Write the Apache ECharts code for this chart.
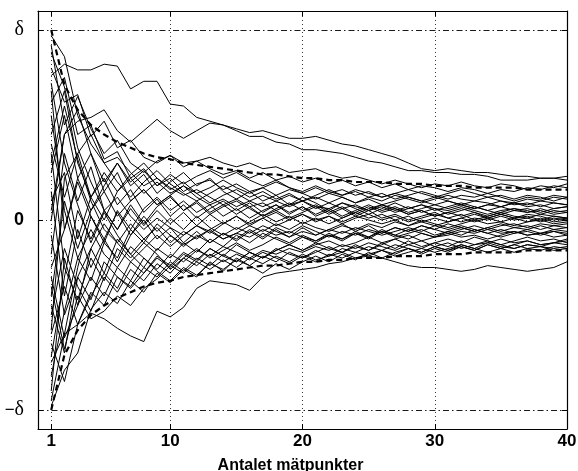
<!DOCTYPE html>
<html>
<head>
<meta charset="utf-8">
<script src="https://cdn.jsdelivr.net/npm/echarts@6/dist/echarts.min.js"></script>
<style>html,body{margin:0;padding:0;background:#fff;}#c{width:578px;height:471px;}</style>
</head>
<body>
<div id="c"></div>
<script>
// Number of measurement points (x values)
const points = [1,2,3,4,5,6,7,8,9,10,11,12,13,14,15,16,17,18,19,20,21,22,23,24,25,26,27,28,29,30,31,32,33,34,35,36,37,38,39,40];
// x tick labels and y tick positions (in units of delta)
const xTicks = [1,10,20,30,40];
const yTicks = [-1,0,1];
// Dashed envelope
const envUpper = [1.00,0.71,0.58,0.50,0.45,0.41,0.38,0.35,0.33,0.32,0.30,0.29,0.28,0.27,0.26,0.25,0.24,0.24,0.23,0.22,0.22,0.21,0.21,0.20,0.20,0.20,0.19,0.19,0.19,0.18,0.18,0.18,0.17,0.17,0.17,0.17,0.16,0.16,0.16,0.16];
const envLower = [-1.00,-0.71,-0.58,-0.50,-0.45,-0.41,-0.38,-0.35,-0.33,-0.32,-0.30,-0.29,-0.28,-0.27,-0.26,-0.25,-0.24,-0.24,-0.23,-0.22,-0.22,-0.21,-0.21,-0.20,-0.20,-0.20,-0.19,-0.19,-0.19,-0.18,-0.18,-0.18,-0.17,-0.17,-0.17,-0.17,-0.16,-0.16,-0.16,-0.16];
// Individual runs
const rA = [0.76,0.82,0.79,0.79,0.82,0.81,0.69,0.73,0.73,0.61,0.60,0.54,0.52,0.50,0.48,0.46,0.47,0.45,0.43,0.43,0.44,0.42,0.40,0.39,0.37,0.35,0.33,0.30,0.27,0.26,0.27,0.26,0.25,0.25,0.24,0.23,0.23,0.22,0.22,0.21];
const rB = [0.00,0.45,0.52,0.54,0.58,0.47,0.41,0.47,0.53,0.47,0.43,0.47,0.51,0.50,0.47,0.44,0.44,0.41,0.40,0.37,0.37,0.36,0.35,0.33,0.31,0.30,0.28,0.26,0.26,0.25,0.25,0.24,0.24,0.23,0.21,0.21,0.21,0.22,0.22,0.23];
const rC = [-0.75,-0.60,-0.55,-0.49,-0.52,-0.57,-0.61,-0.64,-0.48,-0.51,-0.46,-0.36,-0.32,-0.33,-0.34,-0.37,-0.30,-0.28,-0.27,-0.26,-0.25,-0.23,-0.22,-0.20,-0.19,-0.20,-0.22,-0.24,-0.25,-0.25,-0.26,-0.27,-0.26,-0.24,-0.25,-0.26,-0.27,-0.26,-0.25,-0.22];
const rD = [-0.98,-0.79,-0.70,-0.47,-0.38,-0.44,-0.32,-0.38,-0.28,-0.33,-0.26,-0.30,-0.22,-0.27,-0.20,-0.24,-0.28,-0.23,-0.26,-0.22,-0.19,-0.22,-0.18,-0.21,-0.17,-0.20,-0.17,-0.15,-0.18,-0.15,-0.17,-0.14,-0.16,-0.13,-0.15,-0.13,-0.11,-0.13,-0.12,-0.10];
const rE = [0.97,0.86,0.55,0.40,0.30,0.33,0.25,0.18,0.22,0.17,0.13,0.16,0.12,0.08,0.11,0.07,0.09,0.05,0.08,0.10,0.07,0.06,0.09,0.07,0.05,0.07,0.04,0.06,0.08,0.06,0.05,0.07,0.05,0.03,0.05,0.06,0.04,0.05,0.03,0.04];
const rF = [0.88,0.70,0.38,0.20,0.05,0.12,0.02,-0.05,0.01,-0.04,-0.08,-0.03,-0.06,-0.10,-0.07,-0.09,-0.05,-0.08,-0.06,-0.09,-0.11,-0.08,-0.10,-0.07,-0.09,-0.06,-0.08,-0.05,-0.07,-0.09,-0.08,-0.06,-0.07,-0.05,-0.07,-0.06,-0.08,-0.07,-0.05,-0.06];
const rG = [0.80,0.62,0.66,0.44,0.52,0.38,0.42,0.33,0.30,0.34,0.28,0.31,0.27,0.24,0.26,0.22,0.25,0.21,0.23,0.20,0.22,0.19,0.21,0.18,0.20,0.17,0.19,0.16,0.18,0.17,0.15,0.17,0.16,0.14,0.16,0.15,0.17,0.16,0.18,0.17];
const rH = [0.72,0.30,0.08,-0.12,0.04,-0.08,-0.18,-0.10,-0.16,-0.08,-0.13,-0.09,-0.05,-0.10,-0.07,-0.03,-0.06,-0.02,-0.05,-0.01,-0.04,-0.06,-0.03,-0.05,-0.02,-0.04,-0.01,-0.03,0.00,-0.02,-0.04,-0.02,0.00,-0.02,-0.01,-0.03,-0.01,0.01,-0.01,0.00];
const rI = [0.62,0.75,0.45,0.50,0.32,0.36,0.22,0.27,0.18,0.22,0.15,0.19,0.21,0.16,0.19,0.15,0.17,0.13,0.16,0.14,0.11,0.14,0.12,0.09,0.12,0.10,0.13,0.11,0.09,0.11,0.13,0.11,0.10,0.12,0.10,0.09,0.11,0.10,0.12,0.11];
const rJ = [0.55,0.05,-0.20,-0.05,-0.18,-0.25,-0.14,-0.20,-0.26,-0.18,-0.22,-0.16,-0.19,-0.14,-0.17,-0.20,-0.16,-0.18,-0.15,-0.17,-0.14,-0.16,-0.13,-0.15,-0.12,-0.14,-0.16,-0.13,-0.15,-0.12,-0.14,-0.11,-0.13,-0.12,-0.10,-0.12,-0.11,-0.13,-0.12,-0.11];
const rK = [0.45,0.68,0.30,0.12,0.25,0.15,0.24,0.30,0.22,0.16,0.20,0.14,0.17,0.21,0.17,0.14,0.17,0.20,0.17,0.15,0.18,0.15,0.13,0.16,0.14,0.12,0.14,0.12,0.10,0.12,0.10,0.08,0.10,0.09,0.07,0.09,0.08,0.10,0.09,0.08];
const rL = [0.35,-0.25,-0.42,-0.20,-0.32,-0.15,-0.22,-0.28,-0.19,-0.24,-0.17,-0.21,-0.15,-0.19,-0.22,-0.17,-0.20,-0.16,-0.13,-0.16,-0.12,-0.15,-0.17,-0.14,-0.16,-0.13,-0.10,-0.13,-0.11,-0.14,-0.12,-0.15,-0.13,-0.11,-0.13,-0.15,-0.13,-0.14,-0.12,-0.13];
const rM = [0.25,0.55,0.22,0.35,0.15,0.25,0.10,0.16,0.08,0.13,0.05,0.10,0.04,0.08,0.03,0.07,0.02,0.06,0.09,0.05,0.08,0.04,0.07,0.03,0.06,0.08,0.05,0.07,0.04,0.06,0.03,0.05,0.07,0.05,0.03,0.05,0.04,0.06,0.04,0.05];
const rN = [0.15,-0.40,-0.05,-0.25,-0.10,-0.22,-0.08,0.00,-0.10,-0.04,-0.12,-0.06,-0.12,-0.07,-0.11,-0.06,-0.10,-0.05,-0.09,-0.04,-0.08,-0.05,-0.02,-0.06,-0.03,-0.07,-0.04,-0.06,-0.03,-0.05,-0.02,-0.04,-0.06,-0.04,-0.02,-0.04,-0.03,-0.05,-0.03,-0.04];
const rO = [0.05,0.45,0.58,0.35,0.20,0.30,0.18,0.24,0.14,0.20,0.25,0.18,0.22,0.15,0.11,0.15,0.10,0.13,0.08,0.12,0.09,0.05,0.09,0.06,0.03,0.06,0.09,0.06,0.08,0.05,0.07,0.09,0.07,0.05,0.07,0.05,0.06,0.04,0.06,0.07];
const rP = [-0.08,-0.50,-0.30,-0.42,-0.22,-0.30,-0.35,-0.25,-0.30,-0.22,-0.27,-0.20,-0.24,-0.18,-0.22,-0.17,-0.20,-0.15,-0.18,-0.20,-0.16,-0.19,-0.15,-0.17,-0.14,-0.16,-0.13,-0.15,-0.17,-0.14,-0.16,-0.13,-0.15,-0.12,-0.14,-0.15,-0.13,-0.14,-0.15,-0.14];
const rQ = [-0.18,0.35,0.10,0.28,0.05,-0.05,0.08,-0.02,0.07,0.12,0.05,0.09,0.03,0.07,0.10,0.06,0.02,0.05,0.01,0.04,0.07,0.03,0.06,0.02,0.05,0.01,0.03,0.00,0.02,0.04,0.01,0.03,0.00,0.02,0.04,0.02,0.01,0.03,0.02,0.01];
const rR = [-0.30,-0.62,-0.45,-0.30,-0.40,-0.25,-0.32,-0.20,-0.27,-0.32,-0.25,-0.29,-0.23,-0.26,-0.21,-0.24,-0.19,-0.22,-0.17,-0.20,-0.17,-0.14,-0.17,-0.13,-0.16,-0.12,-0.15,-0.11,-0.14,-0.12,-0.10,-0.12,-0.09,-0.11,-0.13,-0.11,-0.09,-0.11,-0.10,-0.12];
const rS = [-0.40,0.10,-0.15,0.05,0.15,0.02,0.10,0.16,0.08,0.13,0.18,0.14,0.09,0.13,0.16,0.12,0.15,0.11,0.14,0.10,0.13,0.16,0.13,0.15,0.12,0.14,0.11,0.13,0.15,0.13,0.11,0.13,0.12,0.14,0.12,0.10,0.12,0.11,0.13,0.12];
const rT = [-0.50,-0.15,-0.35,-0.48,-0.30,-0.38,-0.26,-0.32,-0.23,-0.28,-0.20,-0.15,-0.20,-0.16,-0.12,-0.16,-0.13,-0.09,-0.12,-0.08,-0.11,-0.07,-0.10,-0.06,-0.09,-0.05,-0.08,-0.10,-0.07,-0.09,-0.06,-0.08,-0.05,-0.07,-0.09,-0.07,-0.05,-0.07,-0.06,-0.08];
const rU = [-0.58,0.22,0.35,0.12,0.22,0.08,0.16,0.04,0.11,0.02,0.08,0.01,0.06,0.10,0.05,0.09,0.04,0.08,0.03,0.07,0.02,0.05,0.01,0.04,0.07,0.04,0.06,0.03,0.05,0.02,0.04,0.06,0.04,0.02,0.04,0.06,0.05,0.03,0.05,0.04];
const rV = [-0.65,-0.85,-0.55,-0.38,-0.45,-0.30,-0.36,-0.28,-0.20,-0.25,-0.18,-0.22,-0.15,-0.19,-0.13,-0.17,-0.20,-0.16,-0.13,-0.16,-0.13,-0.11,-0.14,-0.12,-0.09,-0.12,-0.10,-0.08,-0.11,-0.09,-0.07,-0.09,-0.08,-0.10,-0.08,-0.06,-0.08,-0.07,-0.09,-0.08];
const rW = [-0.72,-0.30,0.05,-0.10,0.05,-0.05,0.06,-0.03,0.05,-0.02,0.04,-0.03,0.03,-0.02,0.02,-0.03,0.01,0.04,0.00,0.03,-0.01,0.02,-0.02,0.01,0.03,0.00,0.02,-0.01,0.01,0.03,0.01,-0.01,0.01,0.00,0.02,0.00,0.01,-0.01,0.01,0.00];
const rX = [-0.82,-0.48,-0.20,-0.32,-0.12,-0.20,-0.05,-0.12,-0.02,-0.08,-0.14,-0.08,-0.12,-0.07,-0.10,-0.05,-0.09,-0.04,-0.07,-0.03,-0.06,-0.09,-0.06,-0.08,-0.05,-0.07,-0.04,-0.06,-0.03,-0.05,-0.07,-0.05,-0.03,-0.05,-0.03,-0.02,-0.04,-0.02,-0.03,-0.02];
const rY = [-0.90,-0.20,-0.45,-0.15,-0.28,-0.10,-0.18,-0.25,-0.15,-0.20,-0.12,-0.17,-0.10,-0.14,-0.08,-0.12,-0.07,-0.10,-0.13,-0.09,-0.12,-0.08,-0.11,-0.07,-0.10,-0.06,-0.09,-0.07,-0.05,-0.08,-0.06,-0.04,-0.06,-0.04,-0.06,-0.04,-0.05,-0.03,-0.05,-0.04];
const rZ = [-0.95,-0.60,-0.25,0.02,-0.12,0.05,-0.05,0.06,0.12,0.05,0.10,0.04,0.08,0.02,0.06,0.01,0.05,0.08,0.04,0.07,0.03,0.06,0.02,0.05,0.08,0.05,0.07,0.04,0.06,0.08,0.06,0.08,0.06,0.08,0.07,0.09,0.07,0.08,0.06,0.07];
const rAA = [0.92,0.50,0.65,0.48,0.35,0.42,0.30,0.25,0.31,0.34,0.30,0.31,0.33,0.30,0.28,0.30,0.27,0.28,0.25,0.26,0.27,0.24,0.22,0.23,0.21,0.19,0.21,0.19,0.17,0.19,0.18,0.20,0.18,0.17,0.19,0.18,0.16,0.18,0.17,0.19];
const rAB = [0.68,-0.05,0.20,0.02,-0.10,0.04,-0.08,0.02,-0.06,0.01,-0.05,0.02,-0.04,-0.08,-0.04,-0.07,-0.03,-0.06,-0.09,-0.06,-0.08,-0.05,-0.07,-0.04,-0.06,-0.08,-0.06,-0.04,-0.06,-0.03,-0.05,-0.03,-0.05,-0.07,-0.05,-0.07,-0.06,-0.08,-0.06,-0.07];
const rAC = [0.10,0.25,-0.10,0.12,0.00,0.15,0.22,0.14,0.20,0.14,0.18,0.12,0.08,0.11,0.07,0.10,0.13,0.10,0.07,0.10,0.06,0.09,0.12,0.09,0.11,0.08,0.10,0.12,0.10,0.08,0.10,0.08,0.06,0.08,0.10,0.08,0.09,0.07,0.09,0.08];
const rAD = [-0.25,-0.05,0.22,0.05,0.18,0.30,0.20,0.26,0.18,0.24,0.19,0.23,0.26,0.22,0.25,0.21,0.18,0.21,0.17,0.14,0.17,0.14,0.16,0.13,0.15,0.12,0.14,0.16,0.14,0.12,0.14,0.16,0.14,0.12,0.13,0.11,0.13,0.12,0.10,0.12];
const rAE = [-0.45,-0.70,-0.30,-0.15,-0.02,-0.12,-0.20,-0.12,-0.18,-0.26,-0.20,-0.24,-0.18,-0.22,-0.18,-0.21,-0.17,-0.20,-0.23,-0.19,-0.22,-0.18,-0.20,-0.17,-0.19,-0.16,-0.18,-0.15,-0.17,-0.14,-0.16,-0.14,-0.16,-0.13,-0.15,-0.17,-0.15,-0.16,-0.14,-0.15];
const rAF = [0.30,0.60,0.32,0.10,-0.05,-0.12,-0.02,-0.10,-0.04,-0.12,-0.06,-0.10,-0.05,-0.01,-0.05,-0.01,0.03,-0.01,0.02,-0.02,0.01,-0.02,0.01,0.04,0.01,0.03,0.00,0.02,-0.01,0.01,-0.01,0.01,0.03,0.01,-0.01,0.01,-0.01,0.00,-0.02,-0.01];
const rAG = [-0.60,-0.35,-0.55,-0.40,-0.28,-0.36,-0.22,-0.15,-0.08,-0.14,-0.08,-0.03,-0.07,-0.02,0.02,-0.02,0.01,-0.03,0.00,0.03,0.00,0.02,-0.01,0.02,0.00,-0.02,0.00,-0.03,-0.01,-0.03,-0.01,0.01,-0.01,0.01,0.03,0.01,0.03,0.02,0.00,0.01];
const rAH = [0.40,0.12,0.35,0.45,0.30,0.20,0.12,0.20,0.26,0.19,0.14,0.10,0.14,0.18,0.14,0.10,0.07,0.10,0.13,0.10,0.12,0.09,0.06,0.08,0.05,0.08,0.06,0.03,0.05,0.02,0.04,0.02,0.04,0.01,0.03,0.01,0.02,0.00,0.02,0.01];
const rAI = [-0.35,-0.68,-0.40,-0.52,-0.48,-0.40,-0.45,-0.36,-0.31,-0.24,-0.28,-0.22,-0.26,-0.21,-0.25,-0.20,-0.23,-0.19,-0.22,-0.18,-0.21,-0.19,-0.17,-0.20,-0.18,-0.16,-0.19,-0.17,-0.15,-0.17,-0.15,-0.13,-0.15,-0.17,-0.15,-0.13,-0.15,-0.14,-0.16,-0.15];
const runs = [rA,rB,rC,rD,rE,rF,rG,rH,rI,rJ,rK,rL,rM,rN,rO,rP,rQ,rR,rS,rT,rU,rV,rW,rX,rY,rZ,rAA,rAB,rAC,rAD,rAE,rAF,rAG,rAH,rAI];

const pair = arr => points.map((x,i)=>[x,arr[i]]);
const FONT = '"Liberation Sans", Arial, Helvetica, sans-serif';

const chart = echarts.init(document.getElementById('c'), null, {renderer:'canvas'});

const series = [];
// grid lines (dotted verticals + dotted zero line) and dash-dot ±delta lines
series.push({
  type:'line', data:[], z:1, silent:true, symbol:'none',
  markLine:{
    silent:true, symbol:['none','none'], label:{show:false}, animation:false,
    lineStyle:{color:'#000', width:0.8, type:[1,3]},
    data: xTicks.slice(0,4).map(v=>({xAxis:v})).concat([{yAxis:0}])
  }
});
series.push({
  type:'line', data:[], z:1, silent:true, symbol:'none',
  markLine:{
    silent:true, symbol:['none','none'], label:{show:false}, animation:false,
    lineStyle:{color:'#000', width:0.9, type:[6,3,1.5,3]},
    data: [{yAxis:yTicks[2]},{yAxis:yTicks[0]}]
  }
});
runs.forEach(r=>{
  series.push({type:'line', data:pair(r), symbol:'none', z:2, silent:true,
    lineStyle:{color:'#000', width:1}});
});
[envUpper, envLower].forEach(e=>{
  series.push({type:'line', data:pair(e), symbol:'none', z:3, silent:true,
    lineStyle:{color:'#000', width:2.2, type:[6,4]}});
});

const axisCommon = {
  axisLine:{show:true, onZero:false, lineStyle:{color:'#000', width:1.2}},
  splitLine:{show:false},
};

chart.setOption({
  animation:false,
  backgroundColor:'#fff',
  grid:{left:38, right:11, top:11, bottom:42, containLabel:false, outerBoundsMode:'none'},
  xAxis:[
    Object.assign({
      type:'value', min:0, max:40, position:'bottom',
      axisTick:{show:true, inside:true, length:5, customValues:xTicks, lineStyle:{color:'#000'}},
      axisLabel:{show:true, customValues:xTicks, margin:4, color:'#000', fontFamily:FONT, fontWeight:'bold', fontSize:17},
      name:'Antalet mätpunkter', nameLocation:'middle', nameGap:29,
      nameTextStyle:{color:'#000', fontFamily:FONT, fontWeight:'bold', fontSize:16, padding:[0,24,0,0]}
    }, axisCommon),
    Object.assign({
      type:'value', min:0, max:40, position:'top',
      axisTick:{show:true, inside:true, length:5, customValues:xTicks, lineStyle:{color:'#000'}},
      axisLabel:{show:false}
    }, axisCommon)
  ],
  yAxis:[
    Object.assign({
      type:'value', min:-1.1, max:1.1, position:'left',
      axisTick:{show:true, inside:true, length:5, customValues:yTicks, lineStyle:{color:'#000'}},
      axisLabel:{show:true, customValues:yTicks, margin:14, color:'#000',
        formatter: v => v > 0.5 ? '{s|δ}' : (v < -0.5 ? '{m|−}{s|δ}' : '{b|0}'),
        rich:{
          s:{fontFamily:'"Liberation Serif", "Times New Roman", serif', fontSize:20, color:'#000'},
          m:{fontFamily:FONT, fontSize:17, color:'#000'},
          b:{fontFamily:FONT, fontWeight:'bold', fontSize:18, color:'#000'}
        }
      }
    }, axisCommon),
    Object.assign({
      type:'value', min:-1.1, max:1.1, position:'right',
      axisTick:{show:true, inside:true, length:5, customValues:yTicks, lineStyle:{color:'#000'}},
      axisLabel:{show:false}
    }, axisCommon)
  ],
  series: series
});
</script>
</body>
</html>
